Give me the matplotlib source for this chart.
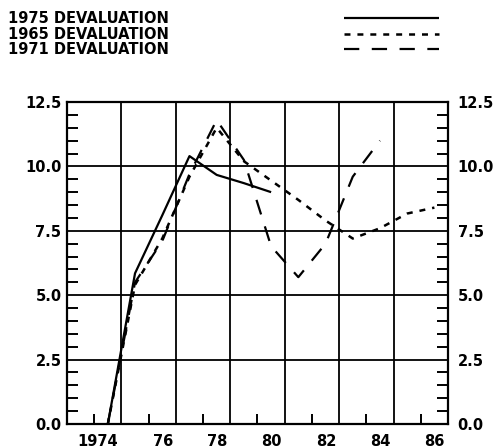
import matplotlib
matplotlib.use("Agg")
import matplotlib.pyplot as plt
from matplotlib.ticker import MultipleLocator
from matplotlib.transforms import ScaledTranslation

# Inflation path after each devaluation (mid-year observations)
years_1975 = [1973.5, 1974.5, 1975.5, 1976.5, 1977.5, 1978.5, 1979.5]
vals_1975 = [0.0, 5.85, 8.1, 10.4, 9.67, 9.35, 9.0]

years_1965 = [1973.5, 1974.5, 1975.5, 1976.5, 1977.5, 1978.5, 1979.5,
              1980.5, 1981.5, 1982.5, 1983.5, 1984.5, 1985.5]
vals_1965 = [0.0, 5.4, 7.2, 9.6, 11.5, 10.2, 9.45, 8.7, 7.9, 7.2, 7.6, 8.17, 8.4]

years_1971 = [1973.5, 1974.5, 1975.5, 1976.5, 1977.5, 1978.5, 1979.5,
              1980.5, 1981.5, 1982.5, 1983.5]
vals_1971 = [0.0, 5.5, 7.1, 9.7, 11.8, 10.25, 6.9, 5.7, 7.0, 9.6, 11.0]

x_major = [1974, 1976, 1978, 1980, 1982, 1984, 1986]
x_labels = ["1974", "76", "78", "80", "82", "84", "86"]
x_minor = [1973, 1975, 1977, 1979, 1981, 1983, 1985]
y_major = [0.0, 2.5, 5.0, 7.5, 10.0, 12.5]

plt.rcParams['font.family'] = ['DejaVu Sans']
plt.rcParams['font.weight'] = 'bold'
plt.rcParams['lines.scale_dashes'] = False

fig = plt.figure(figsize=(4.99, 4.48), dpi=100)
ax = fig.add_axes([67 / 499, 24 / 448, 381 / 499, 322 / 448])

ax.plot(years_1975, vals_1975, color='black', lw=1.6, ls='-',
        label='1975 DEVALUATION', solid_capstyle='butt')
ax.plot(years_1965, vals_1965, color='black', lw=1.8, ls=(0, (4.3, 5.0)),
        label='1965 DEVALUATION')
ax.plot(years_1971, vals_1971, color='black', lw=1.6, ls=(0, (11, 9)),
        label='1971 DEVALUATION')

ax.set_xlim(1972, 1986)
ax.set_ylim(0, 12.5)

ax.set_xticks(x_major)
ax.set_xticklabels(x_labels)
ax.set_xticks(x_minor, minor=True)
ax.set_yticks(y_major)
ax.set_yticklabels([f"{v:.1f}" for v in y_major])
ax.yaxis.set_minor_locator(MultipleLocator(0.5))

ax.grid(True, which='major', color='black', lw=1.3)
ax.set_axisbelow(False)
for sp in ax.spines.values():
    sp.set_linewidth(1.6)

ax.tick_params(axis='x', which='major', length=0, pad=7, labelsize=10.5)
ax.tick_params(axis='x', which='minor', direction='in', length=7.5, width=1.4,
               bottom=True, top=False)
ax.tick_params(axis='y', which='major', length=0, pad=4, labelsize=10.5,
               left=True, right=True, labelleft=True, labelright=True)
ax.tick_params(axis='y', which='minor', direction='in', length=8, width=1.4,
               left=True, right=True)

# x labels sit just left of their grid line
shift_x = ScaledTranslation(-3 / 100, 0, fig.dpi_scale_trans)
for lbl in ax.get_xticklabels():
    lbl.set_horizontalalignment('right')
    lbl.set_transform(lbl.get_transform() + shift_x)

# right-hand y labels sit a little further out
shift_r = ScaledTranslation(4 / 100, 0, fig.dpi_scale_trans)
for tick in ax.yaxis.get_major_ticks():
    tick.label2.set_transform(tick.label2.get_transform() + shift_r)

ax.legend(loc='upper left', bbox_to_anchor=(8 / 499, 1 - 11 / 448),
          bbox_transform=fig.transFigure, frameon=False, borderpad=0,
          borderaxespad=0, markerfirst=False, handlelength=6.5,
          handletextpad=12, labelspacing=0.05,
          prop={'size': 10.5, 'weight': 'bold'})

fig.savefig("out.png", dpi=100)
